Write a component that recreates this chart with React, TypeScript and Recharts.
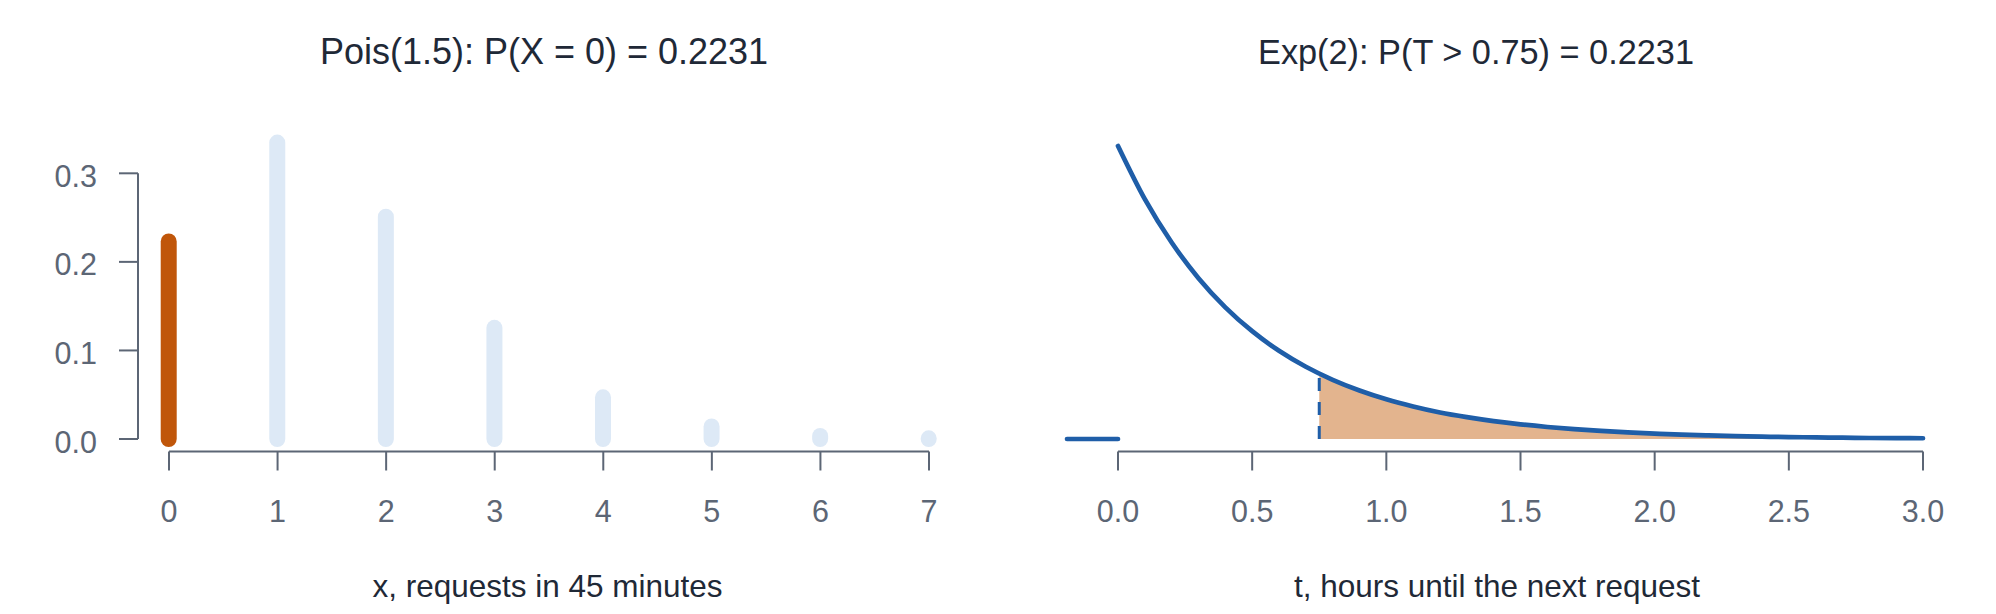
import React from 'react';
import {
  ComposedChart,
  Bar,
  Line,
  Area,
  XAxis,
  YAxis,
  ReferenceLine
} from 'recharts';

// Left panel: Poisson(1.5) probabilities
const poisX = [0, 1, 2, 3, 4, 5, 6, 7];
const poisProb = [0.2231, 0.3347, 0.251, 0.1255, 0.0471, 0.0141, 0.0035, 0.0008];
const poisYTicks = [0, 0.1, 0.2, 0.3];
const highlightX = 0;

// Right panel: Exp(2) density
const expT = [
  0, 0.1, 0.2, 0.3, 0.4, 0.5, 0.6, 0.7, 0.8, 0.9, 1.0,
  1.1, 1.2, 1.3, 1.4, 1.5, 1.6, 1.7, 1.8, 1.9, 2.0,
  2.1, 2.2, 2.3, 2.4, 2.5, 2.6, 2.7, 2.8, 2.9, 3.0
];
const expDensity = [
  2.0, 1.637, 1.341, 1.098, 0.899, 0.736, 0.602, 0.493, 0.404, 0.331, 0.271,
  0.222, 0.181, 0.149, 0.122, 0.1, 0.082, 0.067, 0.055, 0.045, 0.037,
  0.03, 0.025, 0.02, 0.016, 0.013, 0.011, 0.009, 0.007, 0.006, 0.005
];
const expXTicks = [0, 0.5, 1, 1.5, 2, 2.5, 3];
const tailT = [-0.19, 0];
const tailDensity = [0, 0];
const cutoffT = 0.75;
const cutoffDensity = 0.446;

const titles = ['Pois(1.5): P(X = 0) = 0.2231', 'Exp(2): P(T > 0.75) = 0.2231'];
const xLabels = ['x, requests in 45 minutes', 't, hours until the next request'];

const FONT = '"Liberation Sans", Arial, sans-serif';
const AXIS = '#5c6675';
const TEXT = '#1f2937';
const ORANGE = '#c0560a';
const LIGHT = '#dde9f6';
const BLUE = '#1f5ea8';
const SHADE = '#e3b48e';

const poisData = poisX.map((x, i) => ({ x, p: poisProb[i] }));
const expData = expT.map((t, i) => ({ t, y: expDensity[i] }));
const tailData = tailT.map((t, i) => ({ t, y: tailDensity[i] }));
const shadeData = [
  { t: cutoffT, y: cutoffDensity },
  ...expData.filter(d => d.t > cutoffT)
];

const XTick = (props: any) => {
  const { x, y, payload, digits } = props;
  return (
    <g>
      <line x1={x} y1={y} x2={x} y2={y + 19} stroke={AXIS} strokeWidth={2} />
      <text x={x} y={y + 70.5} textAnchor="middle" fill={AXIS} fontSize={30.5} fontFamily={FONT}>
        {Number(payload.value).toFixed(digits)}
      </text>
    </g>
  );
};

const YTick = (props: any) => {
  const { x, y, payload } = props;
  return (
    <g>
      <line x1={x} y1={y} x2={x - 19} y2={y} stroke={AXIS} strokeWidth={2} />
      <text x={x - 41} y={y + 13.5} textAnchor="end" fill={AXIS} fontSize={30.5} fontFamily={FONT}>
        {Number(payload.value).toFixed(1)}
      </text>
    </g>
  );
};

// vertical stick with round ends, drawn from the bar rectangle
const Stick = (props: any) => {
  const { x, y, width, height, payload } = props;
  const cx = x + width / 2;
  return (
    <line
      x1={cx}
      y1={y}
      x2={cx}
      y2={y + height}
      stroke={payload.x === highlightX ? ORANGE : LIGHT}
      strokeWidth={16}
      strokeLinecap="round"
    />
  );
};

export default function App() {
  const leftX: [number, number] = [-0.2855, 7.2855];
  const leftY: [number, number] = [-0.0141, 0.3489];
  const rightX: [number, number] = [-0.3298, 3.1304];
  const rightY: [number, number] = [-0.0853, 2.0819];

  return (
    <div style={{ position: 'absolute', left: 0, top: 0, width: 1996, height: 614, background: '#fff' }}>
      <div style={{ position: 'absolute', left: 0, top: 0 }}>
        <ComposedChart
          width={998}
          height={614}
          data={poisData}
          margin={{ top: 130, right: 38, left: 38, bottom: 82.5 }}
        >
          <XAxis
            dataKey="x"
            type="number"
            domain={leftX}
            allowDataOverflow
            ticks={poisX}
            height={80}
            axisLine={false}
            tickLine={false}
            tickSize={0}
            tickMargin={0}
            interval={0}
            tick={(p: any) => <XTick {...p} digits={0} />}
          />
          <YAxis
            type="number"
            domain={leftY}
            allowDataOverflow
            ticks={poisYTicks}
            width={100}
            axisLine={false}
            tickLine={false}
            tickSize={0}
            tickMargin={0}
            interval={0}
            tick={(p: any) => <YTick {...p} />}
          />
          <ReferenceLine
            segment={[{ x: leftX[0], y: 0 }, { x: leftX[0], y: 0.3 }]}
            stroke={AXIS}
            strokeWidth={2}
            ifOverflow="visible"
          />
          <ReferenceLine
            segment={[{ x: 0, y: leftY[0] }, { x: 7, y: leftY[0] }]}
            stroke={AXIS}
            strokeWidth={2}
            ifOverflow="visible"
          />
          <Bar dataKey="p" barSize={16} shape={<Stick />} isAnimationActive={false} />
        </ComposedChart>
      </div>

      <div style={{ position: 'absolute', left: 998, top: 0 }}>
        <ComposedChart
          width={998}
          height={614}
          data={expData}
          margin={{ top: 134, right: 38, left: 31.5, bottom: 82.5 }}
        >
          <XAxis
            dataKey="t"
            type="number"
            domain={rightX}
            allowDataOverflow
            ticks={expXTicks}
            height={80}
            axisLine={false}
            tickLine={false}
            tickSize={0}
            tickMargin={0}
            interval={0}
            tick={(p: any) => <XTick {...p} digits={1} />}
          />
          <YAxis type="number" domain={rightY} allowDataOverflow hide />
          <ReferenceLine
            segment={[{ x: 0, y: rightY[0] }, { x: 3, y: rightY[0] }]}
            stroke={AXIS}
            strokeWidth={2}
            ifOverflow="visible"
          />
          <Area
            data={shadeData}
            dataKey="y"
            type="monotone"
            stroke="none"
            fill={SHADE}
            fillOpacity={1}
            baseValue={0}
            isAnimationActive={false}
          />
          <ReferenceLine
            segment={[{ x: cutoffT, y: 0 }, { x: cutoffT, y: cutoffDensity }]}
            stroke={BLUE}
            strokeWidth={3}
            strokeDasharray="13 11"
            ifOverflow="visible"
          />
          <Line
            data={tailData}
            dataKey="y"
            type="linear"
            stroke={BLUE}
            strokeWidth={4.7}
            strokeLinecap="round"
            dot={false}
            isAnimationActive={false}
          />
          <Line
            dataKey="y"
            type="monotone"
            stroke={BLUE}
            strokeWidth={4.7}
            strokeLinecap="round"
            dot={false}
            isAnimationActive={false}
          />
        </ComposedChart>
      </div>

      <svg
        width={1996}
        height={614}
        style={{ position: 'absolute', left: 0, top: 0, pointerEvents: 'none' }}
      >
        <text x={544} y={64} textAnchor="middle" fill={TEXT} fontSize={36} fontFamily={FONT}>
          {titles[0]}
        </text>
        <text
          x={1476}
          y={64}
          textAnchor="middle"
          fill={TEXT}
          fontSize={35}
          fontFamily={FONT}
          textLength={436}
          lengthAdjust="spacingAndGlyphs"
        >
          {titles[1]}
        </text>
        <text x={547.5} y={597} textAnchor="middle" fill={TEXT} fontSize={31.5} fontFamily={FONT}>
          {xLabels[0]}
        </text>
        <text x={1497} y={597} textAnchor="middle" fill={TEXT} fontSize={31.5} fontFamily={FONT}>
          {xLabels[1]}
        </text>
      </svg>
    </div>
  );
}
